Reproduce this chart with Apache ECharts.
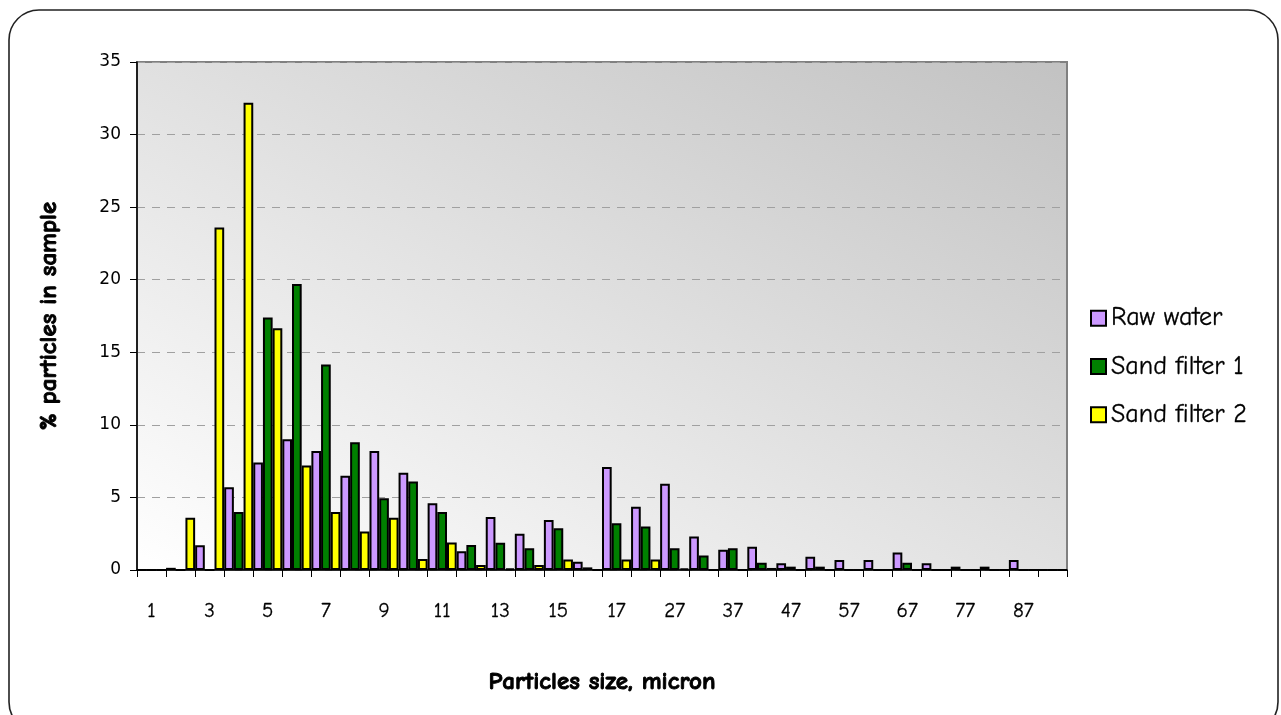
<!DOCTYPE html>
<html>
<head>
<meta charset="utf-8">
<script src="https://cdn.jsdelivr.net/npm/echarts@6/dist/echarts.min.js"></script>
<style>
  html, body { margin: 0; padding: 0; background: #fff; }
  #chart { width: 1281px; height: 715px; }
</style>
</head>
<body>
<div id="chart"></div>
<script>
  // particle size classes, micron
  var sizes = ['1', '2', '3', '4', '5', '6', '7', '8', '9', '10', '11', '12', '13', '14', '15', '16', '17',
    '22', '27', '32', '37', '42', '47', '52', '57', '62', '67', '72', '77', '82', '87', '92']

  var rawWater = [0, 0.15, 1.7, 5.7, 7.4, 9.0, 8.2, 6.5, 8.2, 6.7, 4.6, 1.3, 3.65, 2.5, 3.45, 0.57, 7.1,
    4.35, 5.95, 2.3, 1.4, 1.6, 0.46, 0.92, 0.69, 0.69, 1.2, 0.46, 0.23, 0.23, 0.69, 0]
  var sandFilter1 = [0, 0, 0, 4.0, 17.4, 19.7, 14.15, 8.8, 4.95, 6.1, 4.0, 1.72, 1.88, 1.5, 2.87, 0.18, 3.22,
    3.0, 1.5, 1.0, 1.5, 0.5, 0.23, 0.23, 0, 0, 0.5, 0, 0, 0, 0, 0]
  var sandFilter2 = [0, 3.6, 23.6, 32.2, 16.65, 7.2, 4.0, 2.65, 3.6, 0.75, 1.9, 0.34, 0.11, 0.34, 0.73, 0, 0.73,
    0.73, 0.11, 0, 0, 0.14, 0, 0, 0, 0, 0, 0, 0, 0, 0, 0]

  var comic = '"Comic Sans MS", "Comic Neue", "DejaVu Sans", sans-serif'

  var chart = echarts.init(document.getElementById('chart'))

  function barSeries(name, color, data) {
    return {
      name: name,
      type: 'bar',
      barGap: '0%',
      barCategoryGap: '0%',
      itemStyle: { color: color, borderColor: '#000', borderWidth: 2 },
      data: data
    }
  }

  // diagonal shade like the spreadsheet: white bottom-left, grey top-right
  var plotShade = new echarts.graphic.LinearGradient(0, 1, 0.46, -0.54, [
    { offset: 0, color: '#ffffff' },
    { offset: 1, color: '#c2c2c2' }
  ])

  // the titles are heavy bold in the original
  var titleText = {
    fontFamily: comic, fontSize: 25, fontWeight: 'bold', color: '#000',
    textBorderColor: '#000', textBorderWidth: 0.9
  }

  var option = {
    animation: false,
    backgroundColor: '#fff',
    graphic: [
      {
        type: 'rect',
        shape: { x: 9, y: 10, width: 1269, height: 722, r: 30 },
        style: { fill: 'none', stroke: '#222', lineWidth: 1.6 },
        z: 0
      }
    ],
    grid: {
      left: 137,
      right: 214,
      top: 62,
      bottom: 145,
      show: true,
      borderColor: '#808080',
      borderWidth: 2,
      backgroundColor: plotShade
    },
    legend: {
      orient: 'vertical',
      left: 1085,
      top: 300,
      itemWidth: 15,
      itemHeight: 15,
      itemGap: 22,
      icon: 'rect',
      itemStyle: { borderColor: '#000', borderWidth: 2 },
      textStyle: { fontFamily: comic, fontSize: 26, color: '#000', textBorderColor: '#000', textBorderWidth: 0.3 },
      data: ['Raw water', 'Sand filter 1', 'Sand filter 2']
    },
    xAxis: {
      type: 'category',
      data: sizes,
      boundaryGap: true,
      name: 'Particles size, micron',
      nameLocation: 'middle',
      nameGap: 99,
      nameTextStyle: titleText,
      axisLine: { lineStyle: { color: '#000', width: 1.5 } },
      axisTick: { show: true, interval: 0, length: 7, lineStyle: { color: '#000' } },
      axisLabel: {
        interval: 1, margin: 31, fontFamily: comic, fontSize: 21, color: '#000',
        textBorderColor: '#000', textBorderWidth: 0.3
      },
      splitLine: { show: false }
    },
    yAxis: {
      type: 'value',
      min: 0,
      max: 35,
      interval: 5,
      name: '% particles in sample',
      nameLocation: 'middle',
      nameGap: 76,
      nameTextStyle: titleText,
      axisLine: { show: true, lineStyle: { color: '#000', width: 1.5 } },
      axisTick: { show: true, length: 7, lineStyle: { color: '#000' } },
      axisLabel: { margin: 16, fontFamily: '"DejaVu Sans", Verdana, sans-serif', fontSize: 17, color: '#000' },
      splitLine: { show: true, lineStyle: { color: '#a0a0a0', type: [8, 7], width: 1 } }
    },
    series: [
      barSeries('Raw water', '#cc99ff', rawWater),
      barSeries('Sand filter 1', '#008000', sandFilter1),
      barSeries('Sand filter 2', '#ffff00', sandFilter2)
    ]
  }

  chart.setOption(option)
</script>
</body>
</html>
